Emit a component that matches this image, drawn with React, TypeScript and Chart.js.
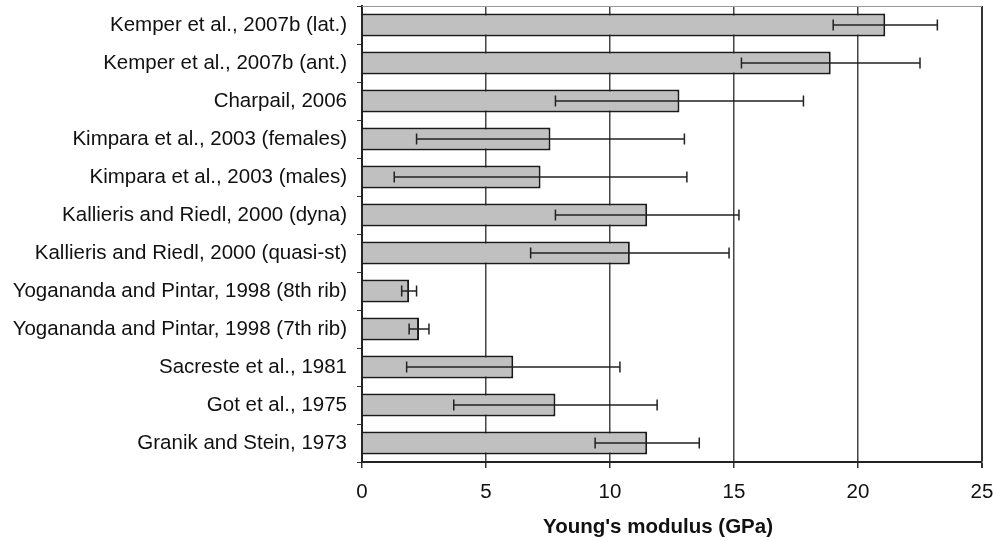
import React, { useEffect, useRef } from "react";
import { Chart, registerables } from "chart.js";

Chart.register(...registerables);

const categories = [
  "Kemper et al., 2007b (lat.)",
  "Kemper et al., 2007b (ant.)",
  "Charpail, 2006",
  "Kimpara et al., 2003 (females)",
  "Kimpara et al., 2003 (males)",
  "Kallieris and Riedl, 2000 (dyna)",
  "Kallieris and Riedl, 2000 (quasi-st)",
  "Yogananda and Pintar, 1998 (8th rib)",
  "Yogananda and Pintar, 1998 (7th rib)",
  "Sacreste et al., 1981",
  "Got et al., 1975",
  "Granik and Stein, 1973",
];

const modulusValues = [21.1, 18.9, 12.8, 7.6, 7.2, 11.5, 10.8, 1.9, 2.3, 6.1, 7.8, 11.5];
const modulusSD = [2.1, 3.6, 5.0, 5.4, 5.9, 3.7, 4.0, 0.3, 0.4, 4.3, 4.1, 2.1];
const xTicks = [0, 5, 10, 15, 20, 25];
const xTitle = "Young's modulus (GPa)";

const FONT = "'Liberation Sans', Arial, sans-serif";

const errorBarPlugin = {
  id: "errorBars",
  afterDatasetsDraw(chart: any) {
    const ctx = chart.ctx;
    const meta = chart.getDatasetMeta(0);
    const xs = chart.scales.x;
    ctx.save();
    ctx.strokeStyle = "#222";
    ctx.lineWidth = 1.5;
    meta.data.forEach((bar: any, i: number) => {
      const v = modulusValues[i];
      const sd = modulusSD[i];
      const x1 = xs.getPixelForValue(v - sd);
      const x2 = xs.getPixelForValue(v + sd);
      const y = bar.y;
      ctx.beginPath();
      ctx.moveTo(x1, y);
      ctx.lineTo(x2, y);
      ctx.moveTo(x1, y - 5.5);
      ctx.lineTo(x1, y + 5.5);
      ctx.moveTo(x2, y - 5.5);
      ctx.lineTo(x2, y + 5.5);
      ctx.stroke();
    });
    ctx.restore();
  },
  afterDraw(chart: any) {
    const ctx = chart.ctx;
    const a = chart.chartArea;
    ctx.save();
    ctx.strokeStyle = "#999";
    ctx.lineWidth = 1;
    ctx.beginPath();
    ctx.moveTo(a.left, a.top + 0.5);
    ctx.lineTo(a.right, a.top + 0.5);
    ctx.stroke();
    ctx.fillStyle = "#111";
    ctx.font = `bold 20.5px ${FONT}`;
    ctx.textAlign = "center";
    ctx.textBaseline = "middle";
    ctx.fillText(xTitle, 658, 527);
    ctx.restore();
  },
};

export default function App() {
  const ref = useRef<HTMLCanvasElement>(null);
  useEffect(() => {
    if (!ref.current) return;
    const chart = new Chart(ref.current, {
      type: "bar",
      data: {
        labels: categories,
        datasets: [
          {
            data: modulusValues,
            backgroundColor: "#c0c0c0",
            borderColor: "#1a1a1a",
            borderWidth: 2,
            barPercentage: 0.6,
            categoryPercentage: 1,
          },
        ],
      },
      options: {
        indexAxis: "y",
        animation: false,
        responsive: true,
        maintainAspectRatio: false,
        layout: { padding: { left: 0, right: 12, top: 6, bottom: 0 } },
        plugins: { legend: { display: false }, tooltip: { enabled: false } },
        scales: {
          x: {
            type: "linear",
            min: 0,
            max: 25,
            afterBuildTicks: (scale: any) => {
              scale.ticks = xTicks.map((v) => ({ value: v }));
            },
            afterFit: (scale: any) => {
              scale.height = 79;
              scale.paddingLeft = 0;
              scale.paddingRight = 0;
            },
            grid: {
              color: (c: any) => (c.tick && c.tick.value === 25 ? "#333" : "#444"),
              lineWidth: (c: any) => (c.tick && c.tick.value === 25 ? 2 : 1.5),
              tickColor: "#333",
              tickLength: 6,
              drawTicks: true,
            },
            border: { display: true, color: "#222", width: 2 },
            ticks: {
              color: "#111",
              font: { family: FONT, size: 20.5 },
              padding: 12,
              maxRotation: 0,
            },
            title: { display: false },
          },
          y: {
            type: "category",
            afterFit: (scale: any) => {
              scale.width = 362;
              scale.paddingTop = 0;
              scale.paddingBottom = 0;
            },
            grid: {
              drawOnChartArea: false,
              drawTicks: true,
              tickLength: 5,
              color: "#333",
              offset: true,
            },
            border: { display: true, color: "#222", width: 2 },
            ticks: {
              color: "#111",
              font: { family: FONT, size: 20.5 },
              padding: 10,
              autoSkip: false,
            },
          },
        },
      },
      plugins: [errorBarPlugin],
    } as any);
    return () => chart.destroy();
  }, []);
  return (
    <div style={{ position: "fixed", left: 0, top: 0, width: 994, height: 541, background: "#fff" }}>
      <canvas ref={ref} />
    </div>
  );
}
